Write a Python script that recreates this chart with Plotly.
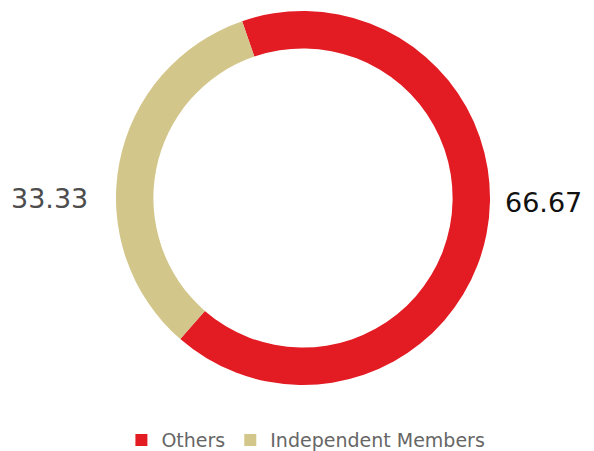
import plotly.graph_objects as go

labels = ['Others', 'Independent Members']
values = [66.67, 33.33]
colors = ['#E31B23', '#D3C68A']
text_colors = ['#111111', '#4d4d4d']
# where each value label sits (paper coords): right for Others, left for Independent
label_pos = [(0.914, 0.487), (0.065, 0.499)]

fig = go.Figure()
fig.add_trace(go.Pie(
    labels=labels,
    values=values,
    hole=0.8,
    sort=False,
    direction='clockwise',
    rotation=-19,
    marker=dict(colors=colors, line=dict(width=0)),
    textinfo='none',
    hoverinfo='label+value',
))

for v, c, (x, y) in zip(values, text_colors, label_pos):
    fig.add_annotation(x=x, y=y, xref='paper', yref='paper', text=f'{v:.2f}',
                       showarrow=False, xanchor='center', yanchor='middle',
                       font=dict(size=27, color=c, family='DejaVu Sans'))

fig.update_layout(
    width=594, height=451,
    margin=dict(l=12, r=0, t=11, b=66),
    paper_bgcolor='white',
    plot_bgcolor='white',
    showlegend=True,
    legend=dict(orientation='h', xref='container', yref='container',
                x=0.515, xanchor='center', y=0.024, yanchor='middle',
                font=dict(size=19, color='#666666', family='DejaVu Sans'),
                itemwidth=30, traceorder='normal'),
)

fig.write_html('out.html', config={'displayModeBar': False},
               post_script="document.body.style.margin='0';")
